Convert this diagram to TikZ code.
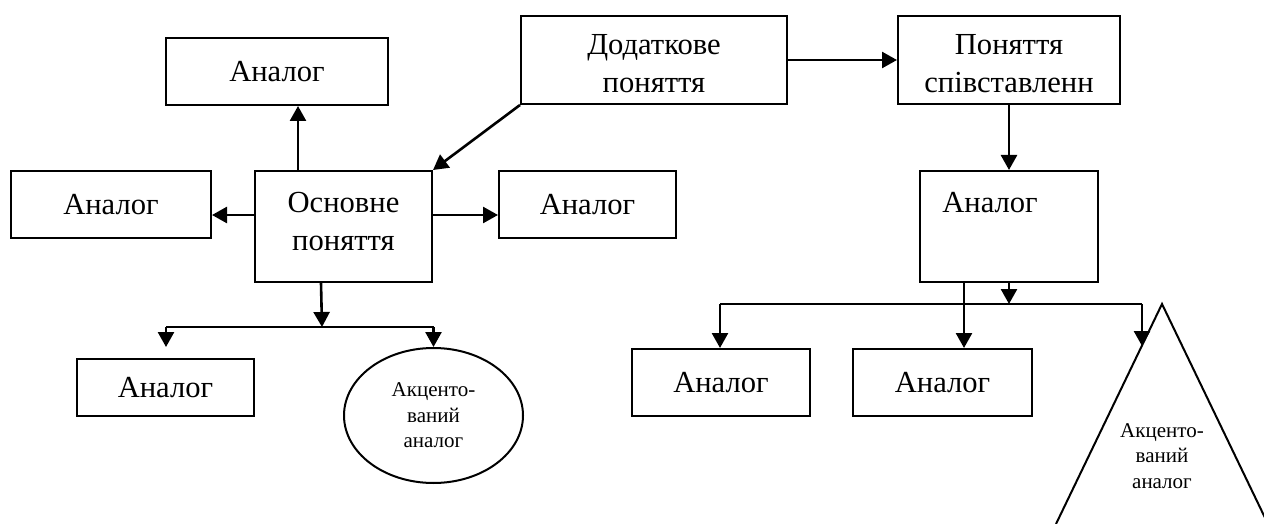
\documentclass[tikz,border=0pt]{standalone}
\usepackage{fontspec}
\setmainfont{Liberation Serif}
\usetikzlibrary{arrows.meta,calc,shapes.geometric}
\begin{document}
\begin{tikzpicture}[x=0.5pt,y=-0.5pt,
  box/.style={draw,line width=1pt,inner sep=0pt,
    font=\fontsize{15.3}{19}\selectfont,align=center},
  big/.style={font=\fontsize{15.3}{19}\selectfont,align=center,inner sep=0pt},
  small/.style={font=\fontsize{10.5}{12.8}\selectfont,align=center,inner sep=0pt},
  arr/.style={line width=1.3pt,-{Triangle[width=8pt,length=7.5pt]}},
  ln/.style={line width=1pt}]
\useasboundingbox (0,0) rectangle (1264,524);

% boxes
\node[box,minimum width=111pt,minimum height=33.5pt] (top) at (277,71.5) {Аналог};
\node[box,minimum width=100pt,minimum height=33.5pt] (left) at (111,204.5) {Аналог};
\node[box,minimum width=88.5pt,minimum height=55.5pt] (main) at (343.5,226.5) {};
\node[big] (maintext) at (343.5,222) {Основне\\поняття};
\node[box,minimum width=88.5pt,minimum height=33.5pt] (right1) at (587.5,204.5) {Аналог};
\node[box,minimum width=133pt,minimum height=44pt] (dod) at (654,60) {};
\node[big] (dodtext) at (654,64) {Додаткове\\поняття};
\node[box,minimum width=111pt,minimum height=44pt] (pon) at (1009,60) {};
\node[big] (pontext) at (1009,64) {Поняття\\співставленн};
\node[box,minimum width=89pt,minimum height=55.5pt] (ana) at (1009,226.5) {};
\node[big] (anatext) at (990,203) {Аналог};
\node[box,minimum width=88.5pt,minimum height=28.5pt] (bl) at (165.5,387.5) {Аналог};
\node[box,minimum width=89pt,minimum height=33.5pt] (b1) at (721,382.5) {Аналог};
\node[box,minimum width=89.5pt,minimum height=33.5pt] (b2) at (942.5,382.5) {Аналог};
\node[draw,line width=1pt,ellipse,inner sep=0pt,minimum width=89.5pt,minimum height=67.5pt,
  small] (ell) at (433.5,415.5) {Акценто-\\ваний\\аналог};

% triangle
\coordinate (apex) at (1162,304);
\coordinate (tbl) at (1056,524);
\coordinate (tbr) at (1268,524);
\draw[ln] (tbl) -- (apex) -- (tbr);
\node[small] (tritext) at (1162,456) {Акценто-\\ваний\\аналог};

% connectors around main
\draw[arr] ($(main.north west)+(44,0)$) -- ($(top.south west)+(133,0)$);
\draw[arr] ($(main.north west)+(0,45)$) -- ($(left.north east)+(0,45)$);
\draw[arr] ($(main.north east)+(0,45)$) -- ($(right1.north west)+(0,45)$);
\draw[arr] (dod.south west) -- (main.north east);
\draw[arr] (dod.east) -- (pon.west);
\draw[arr] (pon.south) -- (ana.north);

% left lower branch
\coordinate (jm) at (322,327);
\coordinate (jl2) at (166,327);
\coordinate (jr2) at (433.5,327);
\coordinate (blt) at (166,347);
\draw[arr] ($(main.south west)+(67,0)$) -- (jm);
\draw[ln] (jl2) -- (jr2);
\draw[arr] (jl2) -- (blt);
\draw[arr] (jr2) -- (ell.north);

% right lower branch
\coordinate (jr) at (1009,304);
\coordinate (jl) at (720,304);
\coordinate (trk) at (1142,304);
\coordinate (trihit) at (1142,346);
\draw[arr] (ana.south) -- (jr);
\draw[ln] (jl) -- (trk);
\draw[arr] (jl) -- (jl |- b1.north);
\draw[arr] (trk) -- (trihit);
\draw[arr] ($(ana.south west)+(45,0)$) -- ($(b2.north west)+(112,0)$);
\end{tikzpicture}
\end{document}
